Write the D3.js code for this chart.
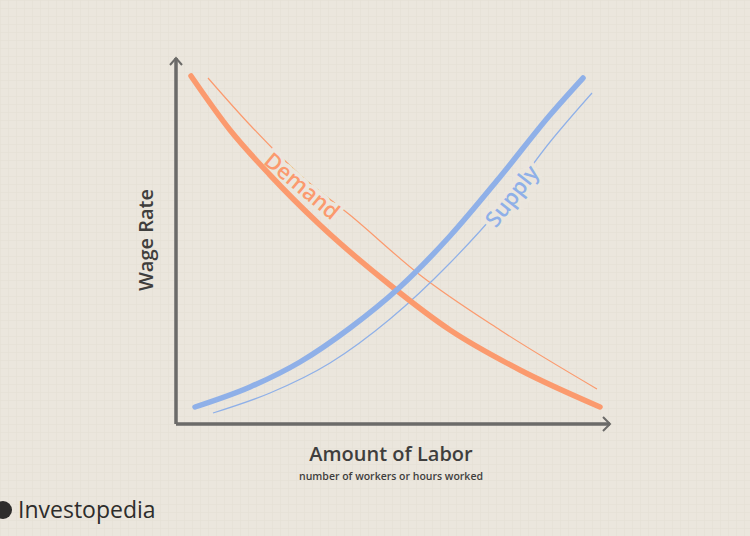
<!DOCTYPE html>
<html><head><meta charset="utf-8">
<script src="https://cdn.jsdelivr.net/npm/d3@7"></script>
<style>body{margin:0;background:#ebe6dd}text{font-family:"Open Sans",sans-serif}</style>
</head><body><svg id="c" width="750" height="536"></svg>
<script>
// curve points, in units from the axis origin
const demandMain = [[15,348],[54,294],[94,249],[144,199],[214,139],[274,94],[344,54],[424,17]];
const demandShadow = [[32,346],[74,299],[124,249],[174,209],[244,149],[324,94],[421,35]];
const supplyMain = [[19,17],[74,37],[124,62],[174,96],[224,137],[274,188],[324,247],[374,309],[407,346]];
const supplyShadow = [[37,11],[94,31],[154,61],[214,105],[274,161],[324,216],[374,282],[416,331]];
const labels = [
  {name: "Demand", at: [126,238], angle: 40, color: "#fb9a6e"},
  {name: "Supply", at: [336,228], angle: -52, color: "#8fb0e8"}
];

const svg = d3.select("#c");
const bg = "#ebe6dd";
svg.append("rect").attr("width",750).attr("height",536).attr("fill",bg);

// faint grid texture
const defs = svg.append("defs");
const pat = defs.append("pattern").attr("id","grid").attr("width",8).attr("height",8).attr("patternUnits","userSpaceOnUse");
pat.append("path").attr("d","M8 0H0V8").attr("fill","none").attr("stroke","#e3ded4").attr("stroke-width",1);
svg.append("rect").attr("width",750).attr("height",536).attr("fill","url(#grid)");

const x = d3.scaleLinear().domain([0,434]).range([176,610]);
const y = d3.scaleLinear().domain([0,366]).range([424,58]);
const line = d3.line().x(d => x(d[0])).y(d => y(d[1])).curve(d3.curveMonotoneX);

// axes
const axisColor = "#6b6a68";
svg.append("path").attr("d",`M${x(0)},${y(0)}V${y(366)}M${x(0)},${y(0)}H${x(434)}`)
  .attr("stroke",axisColor).attr("stroke-width",3.5).attr("fill","none");
svg.append("path").attr("d",`M${x(0)-6},${y(366)+7}L${x(0)},${y(366)}L${x(0)+6},${y(366)+7}`)
  .attr("stroke",axisColor).attr("stroke-width",2).attr("fill","none");
svg.append("path").attr("d",`M${x(434)-7},${y(0)-7}L${x(434)},${y(0)}L${x(434)-7},${y(0)+7}`)
  .attr("stroke",axisColor).attr("stroke-width",2).attr("fill","none");

[[demandShadow,"#fb9a6e"],[supplyShadow,"#8fb0e8"]].forEach(([d,c]) =>
  svg.append("path").attr("d",line(d)).attr("fill","none").attr("stroke",c).attr("stroke-width",1.2));

labels.forEach(l => {
  svg.append("text").attr("transform",`translate(${x(l.at[0])},${y(l.at[1])}) rotate(${l.angle})`)
    .attr("text-anchor","middle").attr("dy","0.35em").attr("font-size",22).attr("font-weight",600)
    .attr("fill",l.color).attr("stroke",bg).attr("stroke-width",8).attr("paint-order","stroke")
    .text(l.name);
});

[[demandMain,"#fb9a6e"],[supplyMain,"#8fb0e8"]].forEach(([d,c]) =>
  svg.append("path").attr("d",line(d)).attr("fill","none").attr("stroke",c)
    .attr("stroke-width",5.5).attr("stroke-linecap","round"));

svg.append("text").attr("transform","translate(153,240) rotate(-90)").attr("text-anchor","middle")
  .attr("font-size",20).attr("font-weight",600).attr("fill","#3f3e3d").text("Wage Rate");
svg.append("text").attr("x",391).attr("y",461).attr("text-anchor","middle")
  .attr("font-size",20).attr("font-weight",600).attr("fill","#3f3e3d").text("Amount of Labor");
svg.append("text").attr("x",391).attr("y",480).attr("text-anchor","middle")
  .attr("font-size",10.5).attr("font-weight",600).attr("fill","#3f3e3d").text("number of workers or hours worked");

// logo
svg.append("circle").attr("cx",3).attr("cy",510).attr("r",9).attr("fill","#2e2d2c");
svg.append("text").attr("x",18).attr("y",518).attr("font-size",23).attr("fill","#2e2d2c").text("Investopedia");
</script></body></html>
